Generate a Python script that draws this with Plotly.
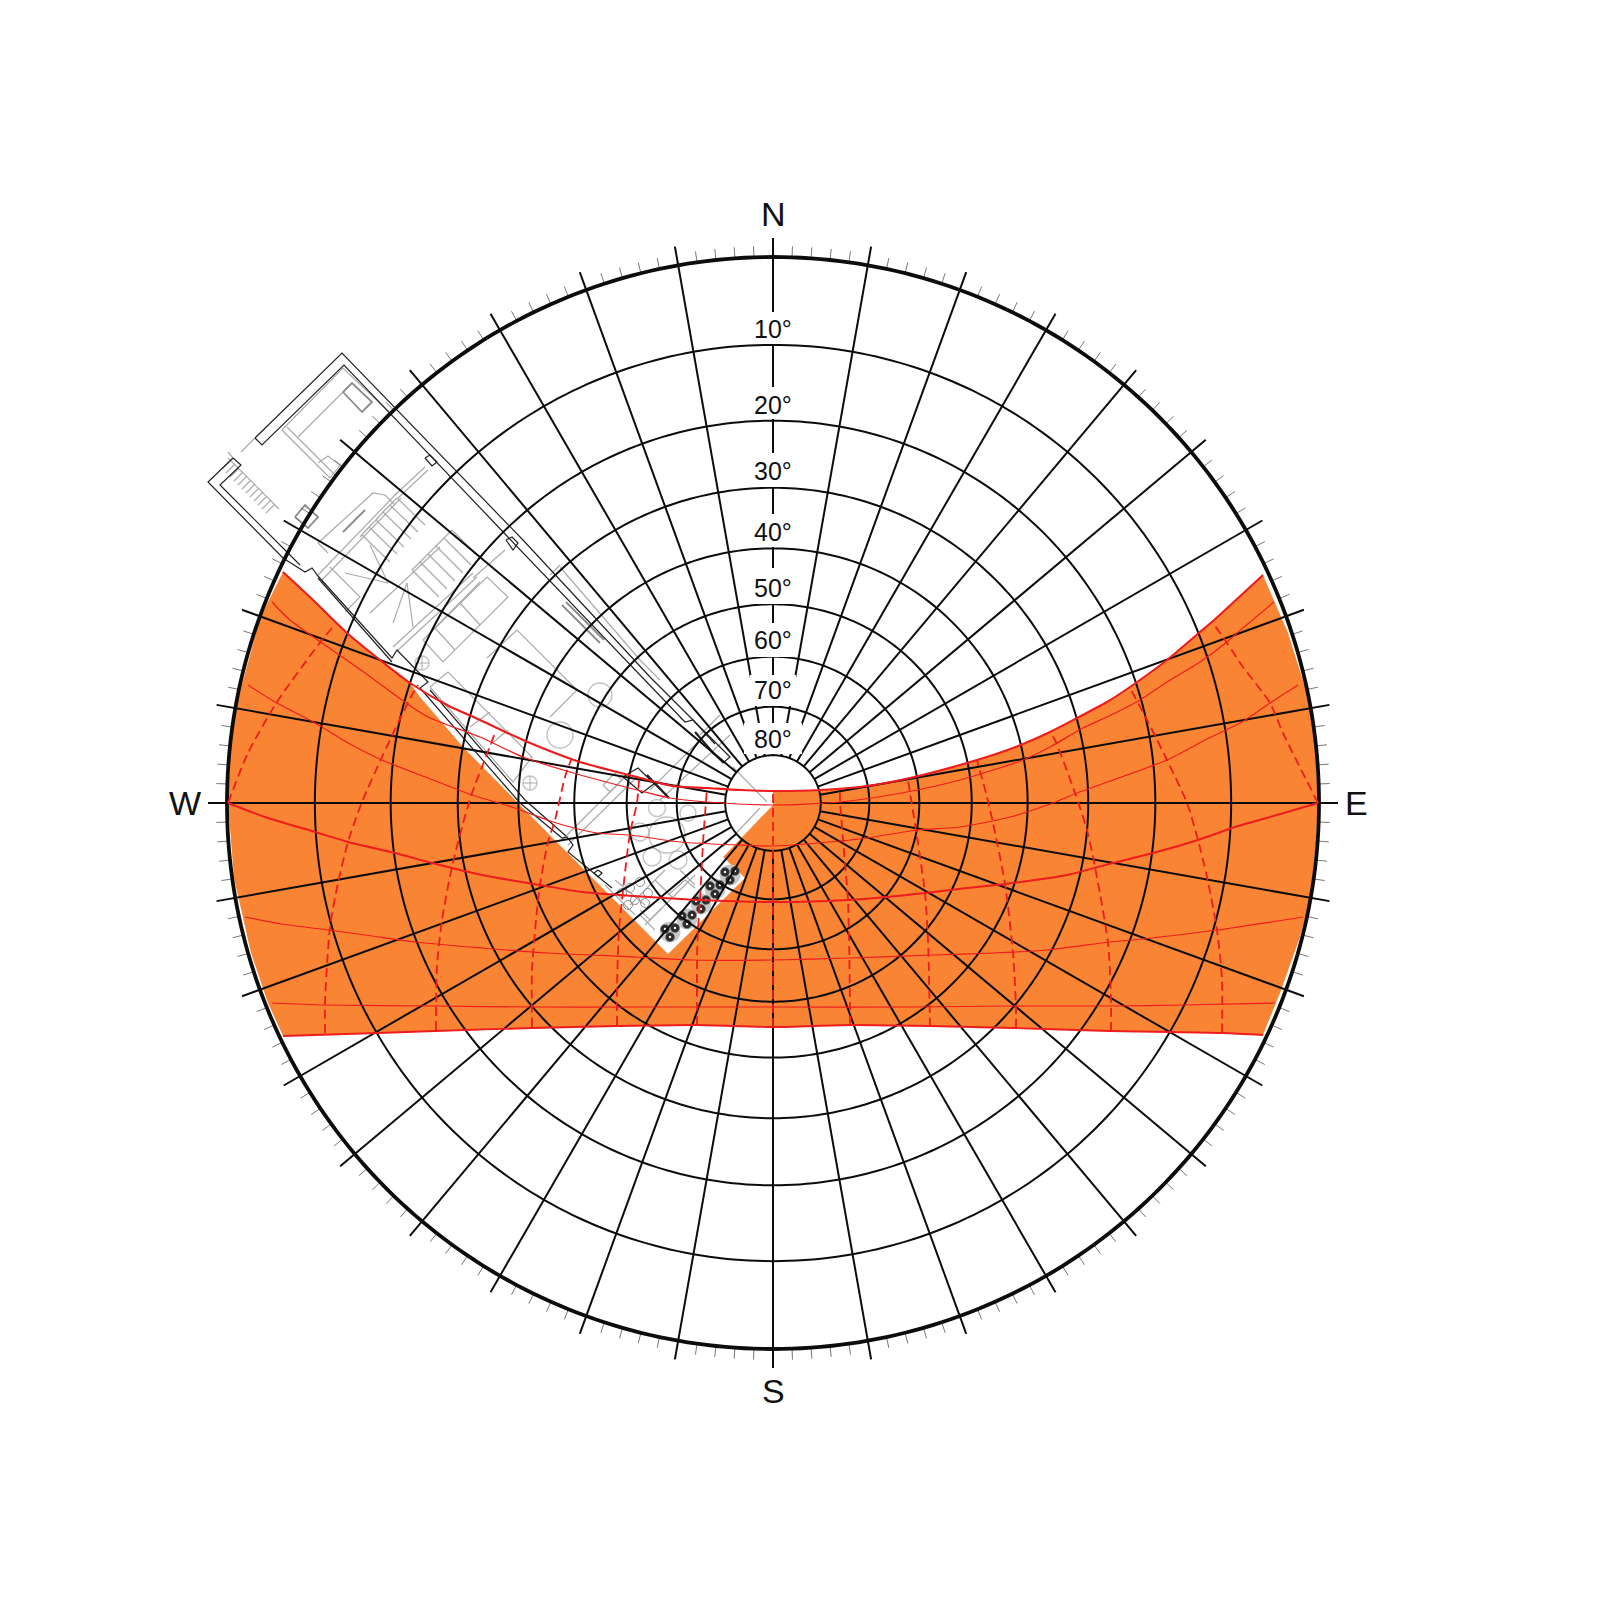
import numpy as np
import plotly.graph_objects as go

# ---------- chart values (offsets east / north of the zenith) ----------
CENTER_X, CENTER_Y = 773, 803
HORIZON_R = 546
ring_altitudes = [10, 20, 30, 40, 50, 60, 70, 80]
spoke_azimuths = list(range(0, 360, 10))
tick_azimuths = [a for a in range(0, 360, 2) if a % 10]
altitude_labels = ["10°", "20°", "30°", "40°", "50°", "60°", "70°", "80°"]
altitude_label_y = [329, 405, 471, 532, 588, 640, 690, 739]
altitude_mask_y = [(312, 344), (387, 419), (453, 487), (514, 547), (568, 604), (623, 657), (675, 706), (723, 754)]
altitude_mask_halfw = [21, 21, 21, 21, 21, 21, 23, 29]

sun_jun = [(-490,231),(-460,203),(-426,170),(-393,143),(-363,120),(-326,98),(-293,83),(-250,63),(-193,41),(-136,26),(-100,17),(-66,15),(-33,13),
           (0,12),(47,13),(94,17),(137,25),(204,43),(240,55),(277,71),(304,85),(334,101),(357,116),(394,143),(427,171),(440,182),(490,228)]
sun_may = [(-501,201),(-483,183),(-448,158),(-408,130),(-371,103),(-345,86),(-293,66),(-250,46),(-203,31),(-136,13),(-103,5),(-66,1),(0,-2),
           (67,1),(134,11),(187,23),(250,43),(277,56),(310,75),(334,86),(367,103),(394,121),(427,141),(454,161),(464,170),(501,201)]
sun_apr = [(-525,118),(-498,101),(-458,80),(-425,60),(-391,43),(-345,25),(-301,8),(-258,-5),(-220,-19),(-176,-30),(-143,-32),(-93,-39),(-36,-42),
           (0,-43),(44,-40),(94,-35),(144,-27),(187,-24),(237,-14),(280,0),(304,10),(394,43),(432,63),(469,81),(497,100),(525,118)]
sun_mar = [(-545,0),(-508,-14),(-458,-29),(-425,-39),(-378,-50),(-341,-60),(-291,-72),(-233,-82),(-191,-89),(-153,-92),(-73,-97),(0,-99),
           (75,-97),(114,-94),(152,-90),(194,-85),(232,-81),(294,-72),(340,-60),(380,-50),(425,-37),(459,-25),(504,-12),(545,0)]
sun_feb = [(-528,-114),(-491,-121),(-445,-127),(-408,-132),(-358,-139),(-291,-145),(-225,-150),(-138,-154),(-80,-157),(0,-157),
           (77,-155),(160,-152),(220,-150),(274,-147),(337,-139),(370,-136),(444,-127),(530,-114)]
sun_jan = [(-501,-200),(-448,-202),(-338,-203),(-241,-204),(-138,-204),(0,-204),(138,-204),(242,-203),(337,-203),(410,-202),(502,-200)]
sun_dec = [(-490,-233),(-395,-230),(-338,-228),(-241,-225),(-156,-223),(-76,-222),(0,-224),(77,-222),(157,-223),(240,-225),(337,-228),(397,-229),(450,-230),(490,-232)]

hour_lines = [
    [(-545,0),(-525,50),(-496,101),(-451,163),(-441,175)],
    [(-448,-230),(-448,-200),(-443,-124),(-435,-80),(-425,-39),(-411,1),(-391,46),(-375,80),(-361,108),(-355,118)],
    [(-337,-227),(-336,-164),(-331,-117),(-321,-64),(-311,-24),(-301,10),(-291,36),(-278,70)],
    [(-241,-224),(-241,-167),(-236,-107),(-233,-82),(-225,-39),(-218,-17),(-208,26),(-202,43)],
    [(-156,-222),(-156,-184),(-154,-127),(-151,-97),(-143,-30),(-136,0),(-134,23)],
    [(-76,-222),(-76,-157),(-75,-127),(-73,-97),(-70,-40),(-66,15)],
    [(0,-224),(0,12)],
    [(77,-222),(77,-204),(75,-97),(72,-60),(67,3),(67,15)],
    [(157,-224),(155,-137),(152,-90),(144,-34),(135,23)],
    [(243,-225),(243,-204),(240,-150),(232,-81),(220,-20),(214,6),(204,43)],
    [(338,-228),(338,-197),(335,-140),(322,-64),(314,-27),(302,10),(282,63),(277,71)],
    [(449,-230),(449,-177),(444,-127),(434,-74),(425,-37),(414,0),(394,43),(374,83),(357,115)],
    [(545,0),(510,70),(497,100),(470,136),(454,160),(440,180)],
]

orange_west_edge = [(-513,185),(-536,100),(-543,50),(-545,0),(-539,-75),(-522,-150),(-505,-200)]
orange_east_edge = [(507,-190),(527,-134),(537,-97),(543,-40),(545,0),(542,60),(534,110),(515,170)]
orange_notch = [(0,-2),(-50,-54),(-28,-75),(-105,-151),(-255,0),(-310,56),(-353,106)]

# ---------- floor plan drawn under the diagram (page positions) ----------
plan_black = [
    [(255,438),(342,353),(523,540),(650,677),(730,757),(723,763),(715,755)],
    [(255,438),(262,445),(344,365),(506,535),(685,722),(693,720),(715,744)],
    [(233,458),(208,482),(283,558),(305,572),(312,568),(318,576),(392,658),(397,650),(428,682),(420,688),(520,803),(562,838),(567,837),(573,845),(568,852),(612,888)],
    [(233,458),(241,465),(220,485),(288,553),(300,565)],
    [(318,578),(392,662)],
    [(430,690),(525,800),(566,836)],
    [(425,458),(430,455),(437,462),(432,466),(425,458)],
    [(506,540),(512,537),(518,543),(513,550),(506,540)],
    [(623,777),(638,768),(669,798)],
    [(655,783),(642,793),(623,777)],
    [(598,870),(602,873),(598,877),(594,873),(598,870)],
]
plan_black_thick = [[(695,732),(715,755)], [(647,775),(669,798)]]
plan_dark = [
    [(343,392),(352,383),(372,402),(362,412),(343,392)],
    [(295,517),(305,505),(318,517),(308,528),(295,517)],
    [(343,532),(365,510)],
    [(562,605),(600,643)],
    [(566,602),(604,640)],
]
plan_gray = [
    [(255,438),(241,452)], [(233,458),(228,452)],
    [(282,430),(343,368),(390,413)], [(282,430),(330,478)], [(287,427),(335,475)], [(298,437),(343,392)],
    [(318,463),(328,456),(340,465),(330,478)],
    [(395,495),(425,467)], [(398,498),(428,470)],
    [(318,543),(373,493),(385,495),(395,505)], [(318,543),(328,553)],
    [(318,575),(397,493)], [(322,580),(401,498)],
    [(370,613),(440,547)], [(393,647),(473,573)], [(397,651),(477,577)],
    [(330,567),(360,597),(345,612)],
    [(360,537),(369,527),(376,520),(383,512),(390,505),(397,498)],
    [(412,570),(452,530)],
    [(388,583),(345,573)], [(388,583),(370,545)], [(407,583),(393,623)], [(407,583),(413,627)],
    [(423,640),(487,577),(508,597),(443,662),(423,640)], [(435,628),(455,650)], [(460,603),(480,625)], [(429,634),(480,582)],
    [(473,578),(505,550)],
    [(487,658),(517,630),(577,690),(550,717)],
    [(430,687),(448,672),(532,757),(513,782),(430,687)], [(470,727),(490,712)], [(490,745),(508,730)],
    [(550,575),(560,565)], [(560,567),(640,660),(660,680)],
    [(562,840),(630,772)], [(568,845),(636,778)],
    [(603,785),(615,773),(622,780),(610,792),(603,785)],
    [(733,767),(767,802)], [(723,847),(760,808)], [(700,735),(720,715)], [(660,800),(730,735)], [(650,790),(715,725)],
    [(630,905),(665,870)], [(645,925),(695,875)], [(655,880),(672,897)], [(680,870),(695,885)], [(640,915),(655,930)],
    [(640,910),(650,920),(662,908)], [(668,895),(685,880),(695,888)],
    [(615,880),(645,905)], [(605,885),(635,915)],
]
stair_a_starts = [(362,535),(369,527),(376,520),(383,512),(390,505),(397,498)]
stair_b_starts = [(412,570),(420,562),(428,554),(436,546),(444,538),(452,530)]
hatch_starts = [(231,460),(235,464),(239,468),(243,472),(247,476),(251,480),(255,484),(259,488),(263,492),(267,496),(271,500),(275,504)]
gray_circles = [(600,695,24),(560,735,26),(657,808,17),(667,835,36),(640,832,18),(652,857,18),(678,860,18),(688,813,16),(530,783,14),(422,663,14)]
crosshair_circles = [(530,783),(422,663)]
fan_circles = [(630,888),(640,882),(648,893),(635,900),(628,905),(645,903),(622,893)]
fixture_groups = [(670,932),(687,919),(701,904),(715,889),(730,875)]


def chart_xy(px_points):
    return [(x - CENTER_X, CENTER_Y - y) for x, y in px_points]


def joined(polylines):
    xs, ys = [], []
    for line in polylines:
        xs += [p[0] for p in line] + [None]
        ys += [p[1] for p in line] + [None]
    return xs, ys


def stereo(alt):
    return HORIZON_R * np.tan(np.radians(90 - alt) / 2)


def polar_xy(az, r):
    a = np.radians(az)
    return r * np.sin(a), r * np.cos(a)


fig = go.Figure()


def add_lines(polylines, color, width, dash=None, smooth=False):
    xs, ys = joined(polylines)
    line = dict(color=color, width=width, dash=dash, simplify=False)
    if smooth:
        line.update(shape="spline", smoothing=0.7)
    fig.add_trace(go.Scatter(x=xs, y=ys, mode="lines", hoverinfo="skip", showlegend=False, line=line))


# sun window
jun_west = sun_jun[:5]
jun_east = sun_jun[13:]
poly = jun_west[:1] + orange_west_edge + sun_dec + orange_east_edge + jun_east[::-1] + orange_notch + jun_west[::-1][:-1]
fig.add_trace(go.Scatter(x=[p[0] for p in poly], y=[p[1] for p in poly], mode="lines", fill="toself",
                         fillcolor="#F98434", line=dict(width=0), hoverinfo="skip", showlegend=False))

# floor plan
gray_lines = [chart_xy(l) for l in plan_gray]
gray_lines += [chart_xy([(x, y), (x + 28, y + 27)]) for x, y in stair_a_starts]
gray_lines += [chart_xy([(x, y), (x + 27, y + 27)]) for x, y in stair_b_starts]
gray_lines += [chart_xy([(x, y), (x - 9, y + 9)]) for x, y in hatch_starts]
gray_lines += [chart_xy([(228, 458), (279, 509)])]
add_lines(gray_lines, "#ababab", 1.2)
for x, y in crosshair_circles:
    add_lines([chart_xy([(x - 7, y), (x + 7, y)]), chart_xy([(x, y - 7), (x, y + 7)])], "#999999", 0.8)
cx = [c[0] - CENTER_X for c in gray_circles]
cy = [CENTER_Y - c[1] for c in gray_circles]
fig.add_trace(go.Scatter(x=cx, y=cy, mode="markers", hoverinfo="skip", showlegend=False,
                         marker=dict(size=[c[2] for c in gray_circles], color="rgba(0,0,0,0)",
                                     line=dict(color="#ababab", width=1.4))))
fig.add_trace(go.Scatter(x=[c[0] - CENTER_X for c in fan_circles], y=[CENTER_Y - c[1] for c in fan_circles], mode="markers",
                         hoverinfo="skip", showlegend=False,
                         marker=dict(size=9, color="rgba(0,0,0,0)", line=dict(color="#8c8c8c", width=1))))
add_lines([chart_xy(l) for l in plan_dark], "#8a8a8a", 1.8)
add_lines([chart_xy(l) for l in plan_black], "#222222", 1.2)
add_lines([chart_xy(l) for l in plan_black_thick], "#222222", 2.2)

# fixtures: three dark discs per group
disc_offsets = [(-5, -3), (5, -4), (0, 5)]
dx_, dy_, = [], []
for gx, gy in fixture_groups:
    for ox, oy in disc_offsets:
        dx_.append(gx + ox - CENTER_X)
        dy_.append(CENTER_Y - gy - oy)
fig.add_trace(go.Scatter(x=[g[0] - CENTER_X for g in fixture_groups], y=[CENTER_Y - g[1] for g in fixture_groups], mode="markers",
                         hoverinfo="skip", showlegend=False, marker=dict(size=21, color="#c9c9c9")))
fig.add_trace(go.Scatter(x=dx_, y=dy_, mode="markers", hoverinfo="skip", showlegend=False,
                         marker=dict(size=9, color="#2b2b2b", line=dict(color="#777777", width=0.6))))
fig.add_trace(go.Scatter(x=dx_, y=dy_, mode="markers", hoverinfo="skip", showlegend=False,
                         marker=dict(size=2.5, color="#eeeeee")))

# minor ticks
tick_lines = []
for a in tick_azimuths:
    x0, y0 = polar_xy(a, HORIZON_R)
    x1, y1 = polar_xy(a, HORIZON_R + 11)
    tick_lines.append([(x0, y0), (x1, y1)])
add_lines(tick_lines, "#777777", 1.0)

# spokes
spoke_lines = []
for a in spoke_azimuths:
    x0, y0 = polar_xy(a, stereo(80))
    x1, y1 = polar_xy(a, HORIZON_R + 19)
    spoke_lines.append([(x0, y0), (x1, y1)])
add_lines(spoke_lines, "#0c0c0c", 2.0)

# altitude rings
az = np.arange(0, 361, 1.0)
ring_lines = []
for alt in ring_altitudes:
    xs, ys = polar_xy(az, stereo(alt))
    ring_lines.append(list(zip(xs, ys)))
add_lines(ring_lines, "#0c0c0c", 2.0)
xs, ys = polar_xy(az, HORIZON_R)
add_lines([list(zip(xs, ys))], "#0c0c0c", 3.8)

# sun paths
for curve, width in [(sun_may, 1.2), (sun_apr, 1.2), (sun_feb, 1.2), (sun_jan, 1.2), (sun_mar, 2.0), (sun_jun, 2.1), (sun_dec, 1.9)]:
    add_lines([curve], "#EE1C1C", width, smooth=True)
add_lines(hour_lines, "#EE1C1C", 1.8, dash="9px,5px", smooth=True)

# masks behind the altitude labels
shapes = []
for (y0, y1), hw in zip(altitude_mask_y, altitude_mask_halfw):
    shapes.append(dict(type="rect", xref="x", yref="y", x0=-hw, x1=hw, y0=CENTER_Y - y0, y1=CENTER_Y - y1,
                       fillcolor="white", line=dict(width=0), layer="above"))

annotations = []
for text, y in zip(altitude_labels, altitude_label_y):
    annotations.append(dict(x=0, y=CENTER_Y - y, text=text, showarrow=False, xref="x", yref="y",
                            font=dict(family="Liberation Sans", size=25, color="#111111")))
for text, x, y in [("N", 773, 214), ("S", 773, 1391), ("W", 185, 803), ("E", 1356, 803)]:
    annotations.append(dict(x=x - CENTER_X, y=CENTER_Y - y, text=text, showarrow=False, xref="x", yref="y",
                            font=dict(family="Liberation Sans", size=34, color="#111111")))

fig.update_layout(
    width=1600, height=1617, margin=dict(l=0, r=0, t=0, b=0), autosize=False,
    paper_bgcolor="white", plot_bgcolor="white", showlegend=False,
    xaxis=dict(range=[-CENTER_X, 1600 - CENTER_X], visible=False, fixedrange=True),
    yaxis=dict(range=[CENTER_Y - 1617, CENTER_Y], visible=False, fixedrange=True),
    shapes=shapes, annotations=annotations,
)
fig.write_html("out.html", config={"displayModeBar": False},
               post_script="document.body.style.margin='0';document.documentElement.style.overflow='hidden';")
